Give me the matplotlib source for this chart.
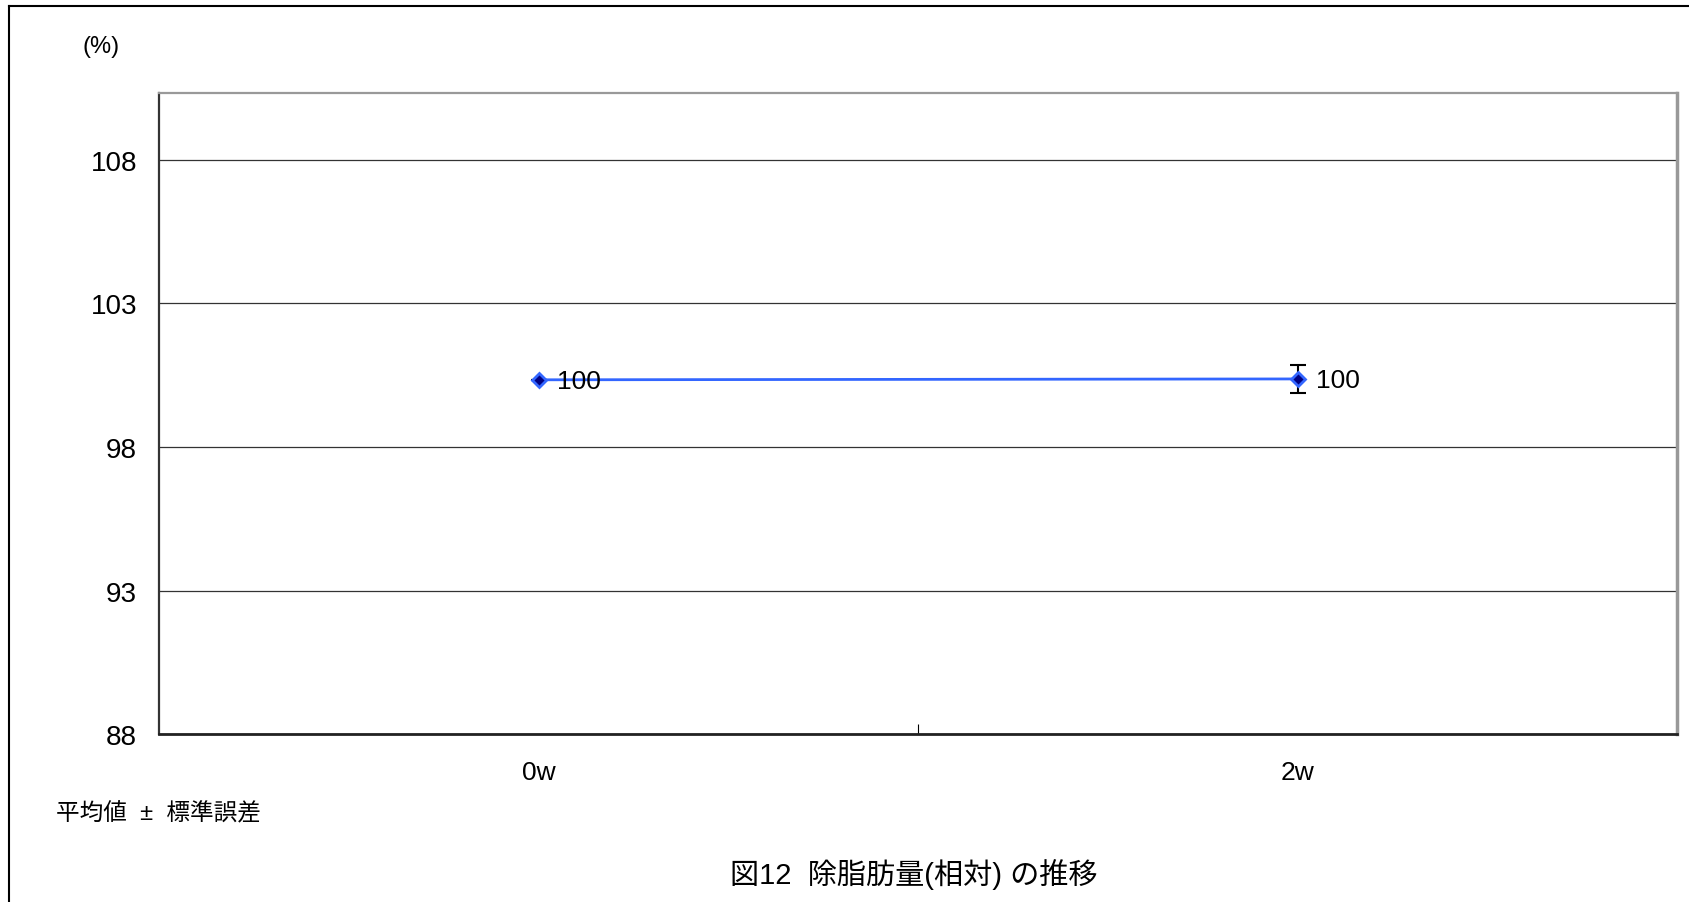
import numpy as np
import matplotlib.pyplot as plt
from matplotlib.lines import Line2D

plt.rcParams['font.family'] = ['Liberation Sans', 'Noto Sans CJK JP', 'DejaVu Sans']

# データ
weeks = ["0w", "2w"]
values = [100.0, 100.03]
errors = [0.0, 0.5]
value_labels = ["100", "100"]
y_ticks = [87.66, 92.66, 97.66, 102.66, 107.66]  # 表示は整数に丸める

fig = plt.figure(figsize=(16.89, 9.03), dpi=100)
ax = fig.add_axes([0.0944, 0.186, 0.8985, 0.7102])

x = np.arange(len(weeks))
ax.plot(x, values, color="#3366FF", lw=2, zorder=3)
ax.errorbar(x, values, yerr=errors, fmt="none", ecolor="black",
            elinewidth=1.5, capsize=6, capthick=1.5, zorder=2)
ax.plot(x, values, ls="none", marker="D", ms=7.5, mfc="#000080",
        mec="#3366FF", mew=2, zorder=4)

for xi, v, lab in zip(x, values, value_labels):
    ax.text(xi + 0.024, v - 0.03, lab, fontsize=19, va="center", ha="left", zorder=5)

ax.set_xlim(-0.5, 1.5)
ax.set_ylim(87.66, 110.0)
ax.set_yticks(y_ticks)
ax.yaxis.set_major_formatter(plt.FuncFormatter(lambda v, p: "%.0f" % v))
ax.set_xticks(x)
ax.set_xticklabels(weeks)
ax.set_xticks([0.5], minor=True)
ax.tick_params(axis="x", which="major", length=0, labelsize=19, pad=19)
ax.tick_params(axis="x", which="minor", direction="in", length=7, width=0.8)
ax.tick_params(axis="y", direction="in", length=0, labelsize=20, pad=16)
ax.grid(axis="y", color="#333333", lw=0.9)
ax.set_axisbelow(True)

ax.spines["left"].set_color("#333333")
ax.spines["left"].set_linewidth(1.6)
ax.spines["bottom"].set_color("#222222")
ax.spines["bottom"].set_linewidth(2)
ax.spines["top"].set_color("#999999")
ax.spines["top"].set_linewidth(1.6)
ax.spines["right"].set_color("#999999")
ax.spines["right"].set_linewidth(2.5)

# 外枠 (左と上のみ)
fig.add_artist(Line2D([0.0056, 0.0056], [0, 0.9925], color="black", lw=1.5))
fig.add_artist(Line2D([0.0056, 1], [0.9925, 0.9925], color="black", lw=1.5))

fig.text(0.060, 0.948, "(%)", fontsize=17, ha="center", va="center")
fig.text(0.033, 0.099, "平均値  ±  標準誤差", fontsize=17, ha="left", va="center")
fig.text(0.541, 0.032, "図12  除脂肪量(相対) の推移", fontsize=21,
         ha="center", va="center")

fig.savefig("out.png", dpi=100)
